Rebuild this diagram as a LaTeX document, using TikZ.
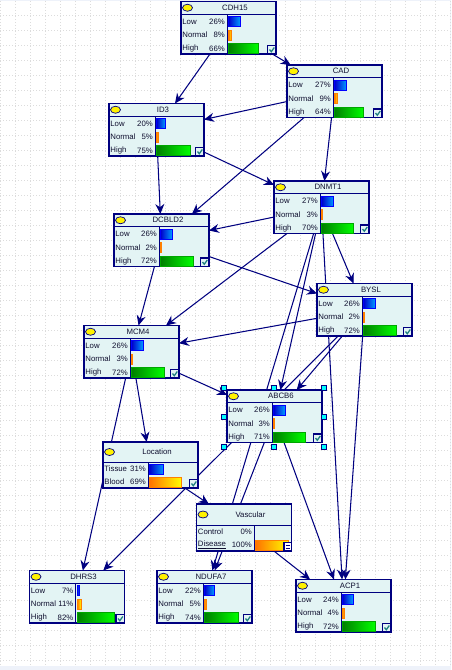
\documentclass[tikz,border=0pt]{standalone}
\usepackage{fontspec}
\setmainfont{Liberation Sans}
\usetikzlibrary{arrows.meta,shapes.geometric}
\definecolor{bnnavy}{HTML}{000080}
\definecolor{bnpale}{HTML}{E3F4F4}
\definecolor{bngrid}{HTML}{DCDCDC}
\definecolor{bnstrip}{HTML}{EEF2FA}
\definecolor{bnteal}{HTML}{1F8080}
\definecolor{bntext}{HTML}{101030}
\definecolor{bncyan}{HTML}{00FFFF}
\pgfdeclarelayer{gridlayer}
\pgfdeclarelayer{edgelayer}
\pgfsetlayers{gridlayer,edgelayer,main}
\tikzset{
  bnbox/.style={draw=bnnavy,line width=1.1pt,fill=bnpale,rectangle,inner sep=0pt,outer sep=0pt},
  bnline/.style={bnnavy,line width=1pt},
  bnedge/.style={bnnavy,line width=1.05pt,-{Stealth[length=10pt,width=9pt]}},
  bntxt/.style={text=bntext,inner sep=0pt,font=\fontsize{7.8}{9}\selectfont},
  bneye/.style={draw=bnnavy,line width=0.7pt,fill=yellow,ellipse,minimum width=10pt,minimum height=7pt,inner sep=0pt},
  bntick/.style={draw=bnnavy,line width=1.1pt,fill=bnpale},
  bnhandle/.style={draw=bnnavy,line width=0.4pt,fill=bncyan,rectangle,minimum size=5pt,inner sep=0pt},
  lowbar/.style={draw=blue,line width=0.7pt,left color=blue!80!black,right color=blue!40!cyan},
  normbar/.style={draw=orange,line width=0.7pt,left color=orange!90!red,right color=yellow},
  highbar/.style={draw=green!65!black,line width=0.7pt,left color=green!50!black,right color=green},
  nobar/.style={}
}
% frame: name, title, left, top, column, height, header
\newcommand{\bnframe}[7]{
  \node[bnbox,minimum width=95pt,minimum height=#6pt] (#1) at (#3+47.5,#4+#6/2) {};
  \begin{scope}[shift={(#3,#4)}]
    \draw[bnline] (0,#7) -- (95,#7);
    \draw[bnline] (#5,#7) -- (#5,#6);
    \node[bneye] (#1-eye) at (6.5,#7/2) {};
    \node[bntxt] (#1-title) at (54,#7/2) {#2};
    \draw[bntick] (86.5,#6-8.5) rectangle (95,#6);
    \draw[bnteal,line width=1.3pt] (88.5,#6-4.5) -- (90.3,#6-2.3) -- (93.3,#6-6.5);
  \end{scope}
}
% row: name, left, top, column, y, label, value, bar style, bar width
\newcommand{\bnrow}[9]{
  \begin{scope}[shift={(#2,#3)}]
    \node[bntxt,anchor=west] (#1-label) at (1.2,#5) {#6};
    \node[bntxt,anchor=east] (#1-value) at (#4-2,#5) {#7\%};
    \path[#8] (#4+1.6,#5-5) rectangle ++(#9,10);
  \end{scope}
}
% three state node: name, title, left, top, column, low, normal, high
\newcommand{\bnthree}[8]{
  \bnframe{#1}{#2}{#3}{#4}{#5}{52.5}{12.5}
  \bnrow{#1-low}{#3}{#4}{#5}{20}{Low}{#6}{lowbar}{#6*0.46-0.7}
  \bnrow{#1-normal}{#3}{#4}{#5}{33.5}{Normal}{#7}{normbar}{#7*0.36}
  \bnrow{#1-high}{#3}{#4}{#5}{47}{High}{#8}{highbar}{#8*0.46-0.7}
}
\begin{document}
\begin{tikzpicture}[x=1pt,y=-1pt,>=Stealth]
  \useasboundingbox (0,0) rectangle (451,670);

  % --- canvas with dotted grid ---
  \begin{pgfonlayer}{gridlayer}
    \fill[white] (0,0) rectangle (451,670);
    \fill[bnstrip] (0,0) rectangle (451,1);
    \fill[bnstrip] (0,666) rectangle (451,670);
    \fill[bnstrip] (450,0) rectangle (451,670);
    \foreach \gx in {0,15,...,450}
      \draw[bngrid,line width=0.9pt,dash pattern=on 1.3pt off 1.7pt] (\gx+0.5,1) -- (\gx+0.5,666);
    \foreach \gy in {15,30,...,660}
      \draw[bngrid,line width=0.9pt,dash pattern=on 1.3pt off 1.7pt] (0,\gy+0.6) -- (450,\gy+0.6);
  \end{pgfonlayer}

  % --- three state nodes ---
  \bnthree{cdh}{CDH15}{181}{1.5}{46}{26}{8}{66}
  \bnthree{cad}{CAD}{287}{65}{46}{27}{9}{64}
  \bnthree{idt}{ID3}{109}{103.5}{46}{20}{5}{75}
  \bnthree{dnmt}{DNMT1}{274}{181}{46}{27}{3}{70}
  \bnthree{dcb}{DCBLD2}{114}{214}{45}{26}{2}{72}
  \bnthree{bysl}{BYSL}{317}{283.5}{45}{26}{2}{72}
  \bnthree{mcm}{MCM4}{84}{325.5}{46}{26}{3}{72}
  \bnthree{abcb}{ABCB6}{227}{390}{45}{26}{3}{71}
  \bnthree{dhrs}{DHRS3}{29.5}{570.5}{46}{7}{11}{82}
  \bnthree{ndu}{NDUFA7}{157}{570.5}{46}{22}{5}{74}
  \bnthree{acp}{ACP1}{296}{579.5}{45}{24}{4}{72}

  % --- two state nodes ---
  \bnframe{loc}{Location}{103}{442}{45}{46}{20}
  \bnrow{loc-tissue}{103}{442}{45}{27}{Tissue}{31}{lowbar}{14}
  \bnrow{loc-blood}{103}{442}{45}{40}{Blood}{69}{normbar}{32}
  \bnframe{vasc}{Vascular}{196.5}{504}{57.5}{47}{21}
  \bnrow{vasc-control}{196.5}{504}{57.5}{28}{Control}{0}{nobar}{0}
  \bnrow{vasc-disease}{196.5}{504}{57.5}{41}{\underline{Disease}}{100}{normbar}{33}
  \draw[bntick,fill=white] (284,542.5) rectangle (291.5,551);
  \draw[bnline,line width=0.9pt] (285.5,545) -- (290,545) (285.5,548.5) -- (290,548.5);

  % --- selection handles ---
  \foreach \hname/\hx/\hy in {a/224/388,b/274/388,c/324/388,d/224/417,e/324/417,f/224/446.5,g/274/446.5,h/324/446.5}
    \node[bnhandle] (handle-\hname) at (\hx,\hy) {};

  % --- arcs ---
  \begin{pgfonlayer}{edgelayer}
    \foreach \from/\to in {cdh/idt,cdh/cad,cad/idt,cad/dnmt,cad/dcb,idt/dcb,idt/dnmt,
        dnmt/dcb,dnmt/bysl,dnmt/mcm,dnmt/abcb,dnmt/ndu,dnmt/acp,
        dcb/mcm,dcb/bysl,bysl/mcm,bysl/abcb,bysl/dhrs,bysl/acp,
        mcm/abcb,mcm/loc,mcm/dhrs,abcb/ndu,abcb/acp,loc/vasc,vasc/acp}
      \draw[bnedge] (\from) -- (\to);
  \end{pgfonlayer}
\end{tikzpicture}
\end{document}
